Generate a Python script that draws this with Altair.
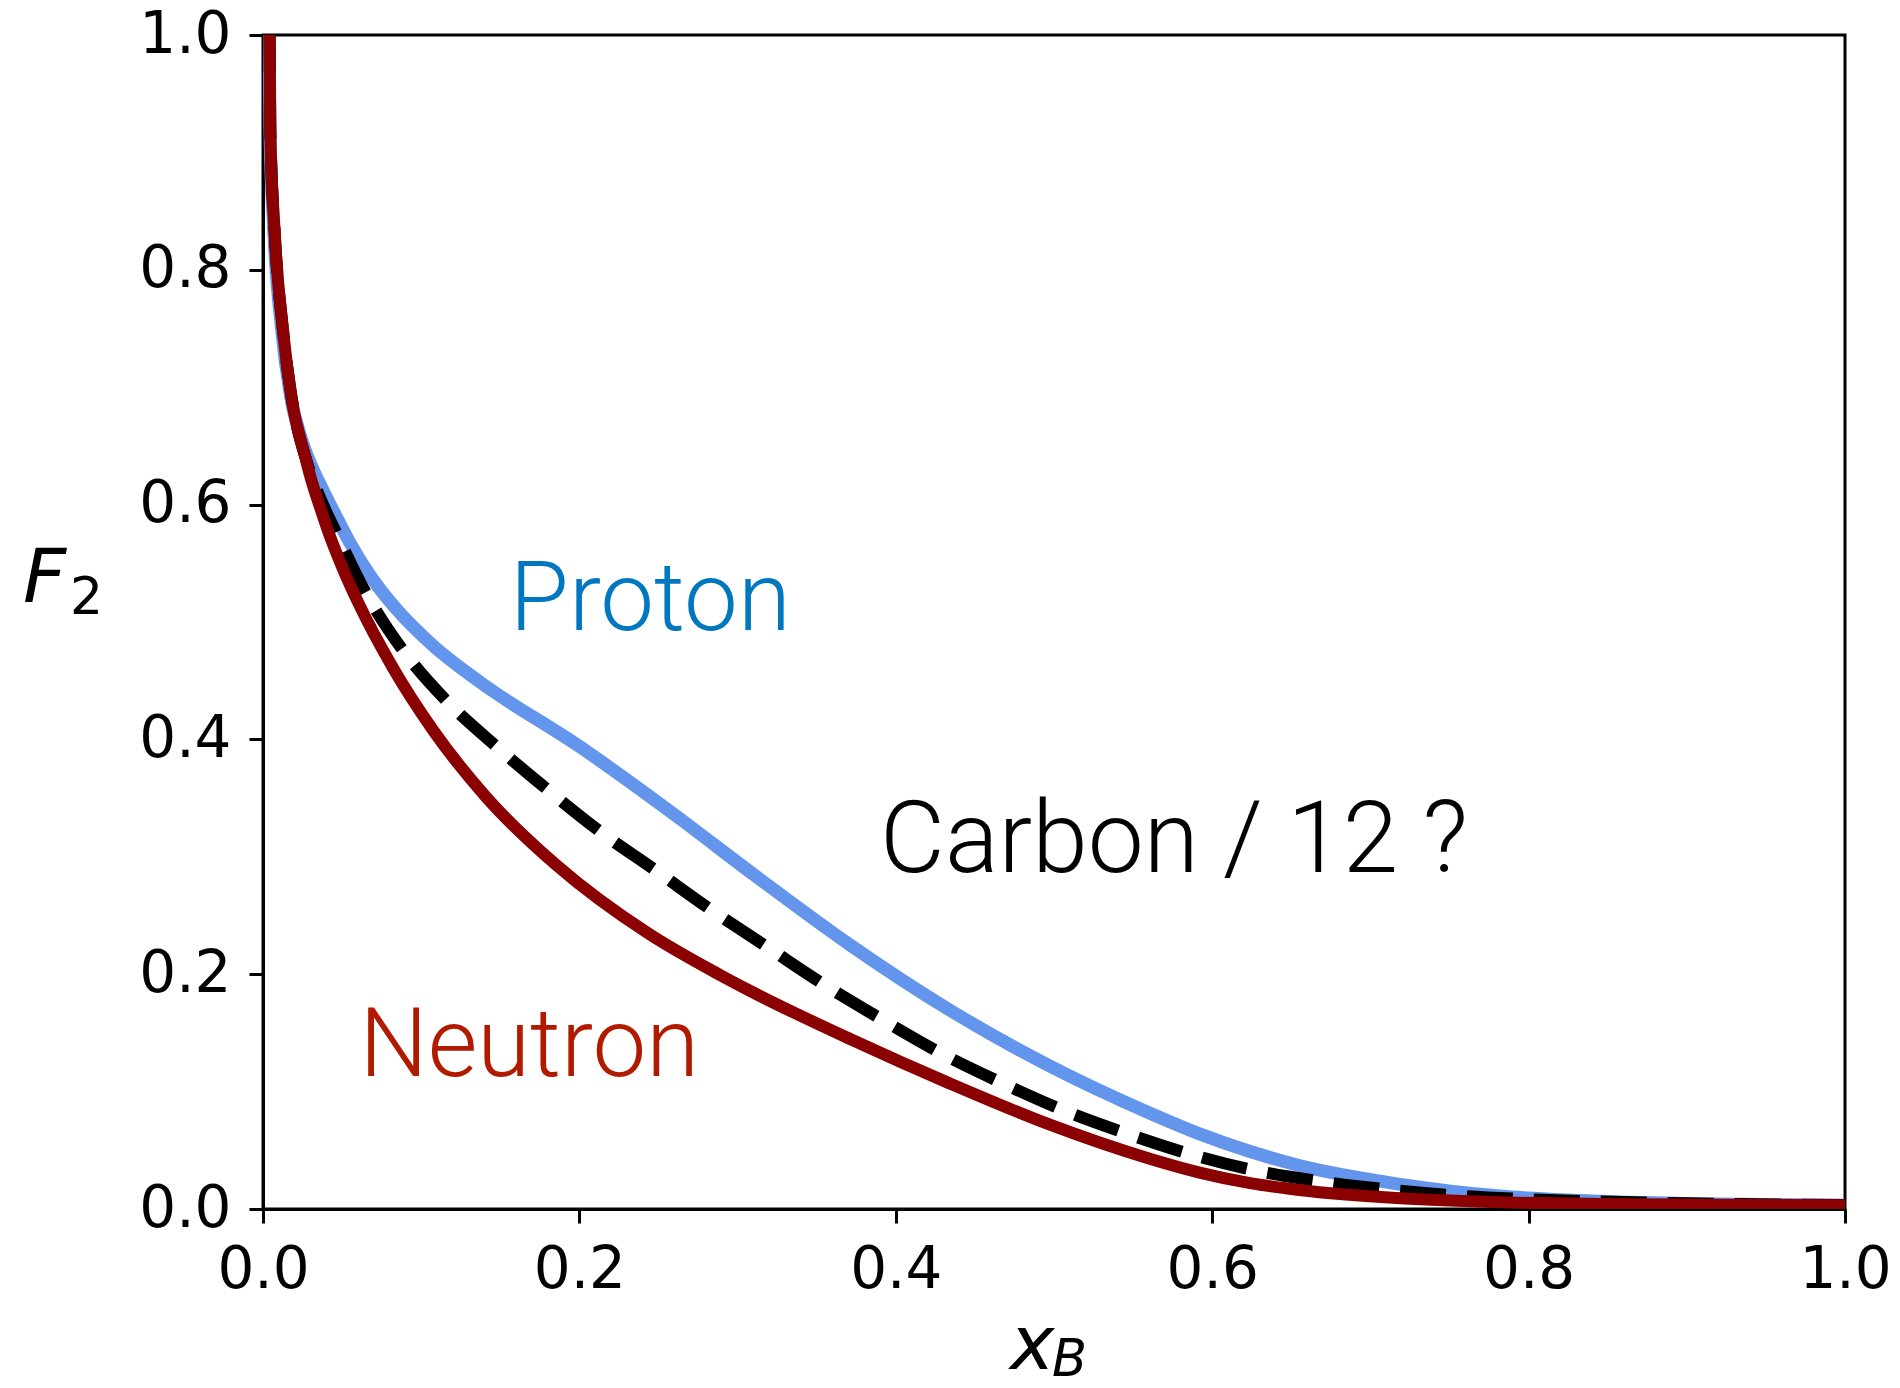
import altair as alt
import pandas as pd

# ---- data ----
proton_x = [0.002, 0.0040, 0.0044, 0.0068, 0.0118, 0.0172, 0.0245, 0.0316, 0.038, 0.047, 0.0547, 0.068,
            0.0843, 0.1074, 0.137, 0.200, 0.259, 0.311, 0.371, 0.434, 0.497, 0.560, 0.592, 0.624, 0.655,
            0.719, 0.782, 0.845, 0.908, 1.0]
proton_y = [1.30, 0.99, 0.92, 0.834, 0.749, 0.694, 0.655, 0.630, 0.612, 0.588, 0.568, 0.539,
            0.511, 0.480, 0.449, 0.394, 0.337, 0.284, 0.225, 0.1695, 0.122, 0.082, 0.064, 0.049, 0.037,
            0.021, 0.011, 0.0065, 0.0044, 0.0033]

neutron_x = [0.002, 0.0042, 0.0046, 0.0073, 0.0126, 0.0179, 0.0274, 0.0295, 0.036, 0.041, 0.050, 0.060,
             0.0821, 0.1074, 0.141, 0.1854, 0.2444, 0.288, 0.3076, 0.3708, 0.434, 0.497, 0.560, 0.592,
             0.624, 0.655, 0.719, 0.782, 0.845, 0.908, 1.0]
neutron_y = [1.40, 0.996, 0.919, 0.834, 0.749, 0.692, 0.637, 0.626, 0.598, 0.578, 0.547, 0.517,
             0.461, 0.408, 0.351, 0.293, 0.234, 0.200, 0.186, 0.145, 0.107, 0.072, 0.043, 0.031,
             0.022, 0.0162, 0.0091, 0.0057, 0.0043, 0.0037, 0.0032]

carbon_x = [0.002, 0.0042, 0.0046, 0.0073, 0.0126, 0.018, 0.028, 0.036, 0.0463, 0.0653, 0.0884, 0.1159,
            0.1475, 0.180, 0.2132, 0.2486, 0.2834, 0.319, 0.355, 0.391, 0.4287, 0.4667, 0.5056, 0.5457,
            0.586, 0.628, 0.670, 0.712, 0.754, 0.797, 0.839, 0.90, 1.0]
carbon_y = [1.35, 0.99, 0.92, 0.834, 0.749, 0.692, 0.635, 0.606, 0.576, 0.524, 0.476, 0.433,
            0.394, 0.357, 0.3214, 0.288, 0.2547, 0.2229, 0.1908, 0.1616, 0.1326, 0.1076, 0.0843, 0.0644,
            0.0468, 0.0326, 0.0233, 0.0165, 0.0116, 0.0085, 0.0066, 0.0048, 0.0035]

tick_values = [0.0, 0.2, 0.4, 0.6, 0.8, 1.0]

label_text = ["Proton", "Carbon / 12 ?", "Neutron"]
label_x = [0.156, 0.390, 0.061]
label_y = [0.493, 0.287, 0.113]
label_color = ["#0077BE", "#000000", "#B21A00"]
label_size = [96, 100, 96]

# ---- tables ----
proton = pd.DataFrame({"x": proton_x, "y": proton_y})
neutron = pd.DataFrame({"x": neutron_x, "y": neutron_y})
carbon = pd.DataFrame({"x": carbon_x, "y": carbon_y})
labels = pd.DataFrame({"x": label_x, "y": label_y, "t": label_text, "c": label_color, "s": label_size})

W, H = 1582, 1174

xs = alt.X("x:Q", scale=alt.Scale(domain=[0, 1], nice=False, zero=False),
           axis=alt.Axis(values=tick_values, format=".1f", title=None))
ys = alt.Y("y:Q", scale=alt.Scale(domain=[0, 1], nice=False, zero=False),
           axis=alt.Axis(values=tick_values, format=".1f", title=None))

blue = alt.Chart(proton).mark_line(color="#6495ED", strokeWidth=13, clip=True,
                                   interpolate="monotone").encode(x=xs, y=ys, order="x:Q")
dashed = alt.Chart(carbon).mark_line(color="#000000", strokeWidth=12, strokeDash=[46, 21],
                                     clip=True, interpolate="monotone").encode(x=xs, y=ys, order="x:Q")
red = alt.Chart(neutron).mark_line(color="#8B0000", strokeWidth=12, clip=True,
                                   interpolate="monotone").encode(x=xs, y=ys, order="x:Q")

texts = alt.Chart(labels).mark_text(align="left", baseline="alphabetic", font="Roboto",
                                    fontWeight=300).encode(
    x="x:Q", y="y:Q", text="t:N", color=alt.Color("c:N", scale=None),
    size=alt.Size("s:Q", scale=None))

# axis titles (F_2 and x_B) as text
ttl_font = "DejaVu Sans"
f_main = alt.Chart(pd.DataFrame({"t": ["F"]})).mark_text(
    align="left", baseline="alphabetic", font=ttl_font, fontSize=75, fontStyle="italic", color="black"
).encode(x=alt.value(-240), y=alt.value(567), text="t:N")
f_sub = alt.Chart(pd.DataFrame({"t": ["2"]})).mark_text(
    align="left", baseline="alphabetic", font=ttl_font, fontSize=52, color="black"
).encode(x=alt.value(-193), y=alt.value(579), text="t:N")
x_main = alt.Chart(pd.DataFrame({"t": ["x"]})).mark_text(
    align="left", baseline="alphabetic", font=ttl_font, fontSize=75, fontStyle="italic", color="black"
).encode(x=alt.value(747), y=alt.value(1334), text="t:N")
x_sub = alt.Chart(pd.DataFrame({"t": ["B"]})).mark_text(
    align="left", baseline="alphabetic", font=ttl_font, fontSize=51, fontStyle="italic", color="black"
).encode(x=alt.value(789), y=alt.value(1341), text="t:N")

chart = alt.layer(blue, dashed, red, texts, f_main, f_sub, x_main, x_sub).properties(
    width=W, height=H,
    autosize=alt.AutoSizeParams(type="none"),
    padding={"left": 263, "top": 35, "right": 55, "bottom": 179},
    background="white",
).configure_view(
    stroke="black", strokeWidth=3
).configure_axis(
    grid=False, domainColor="black", domainWidth=3, tickColor="black", tickWidth=3, tickSize=14,
    labelFont="DejaVu Sans", labelFontSize=58, labelColor="black", labelPadding=18,
    labelOverlap=False, labelFlush=False
)

chart.save("out.html", embed_options={"renderer": "svg", "actions": False})
